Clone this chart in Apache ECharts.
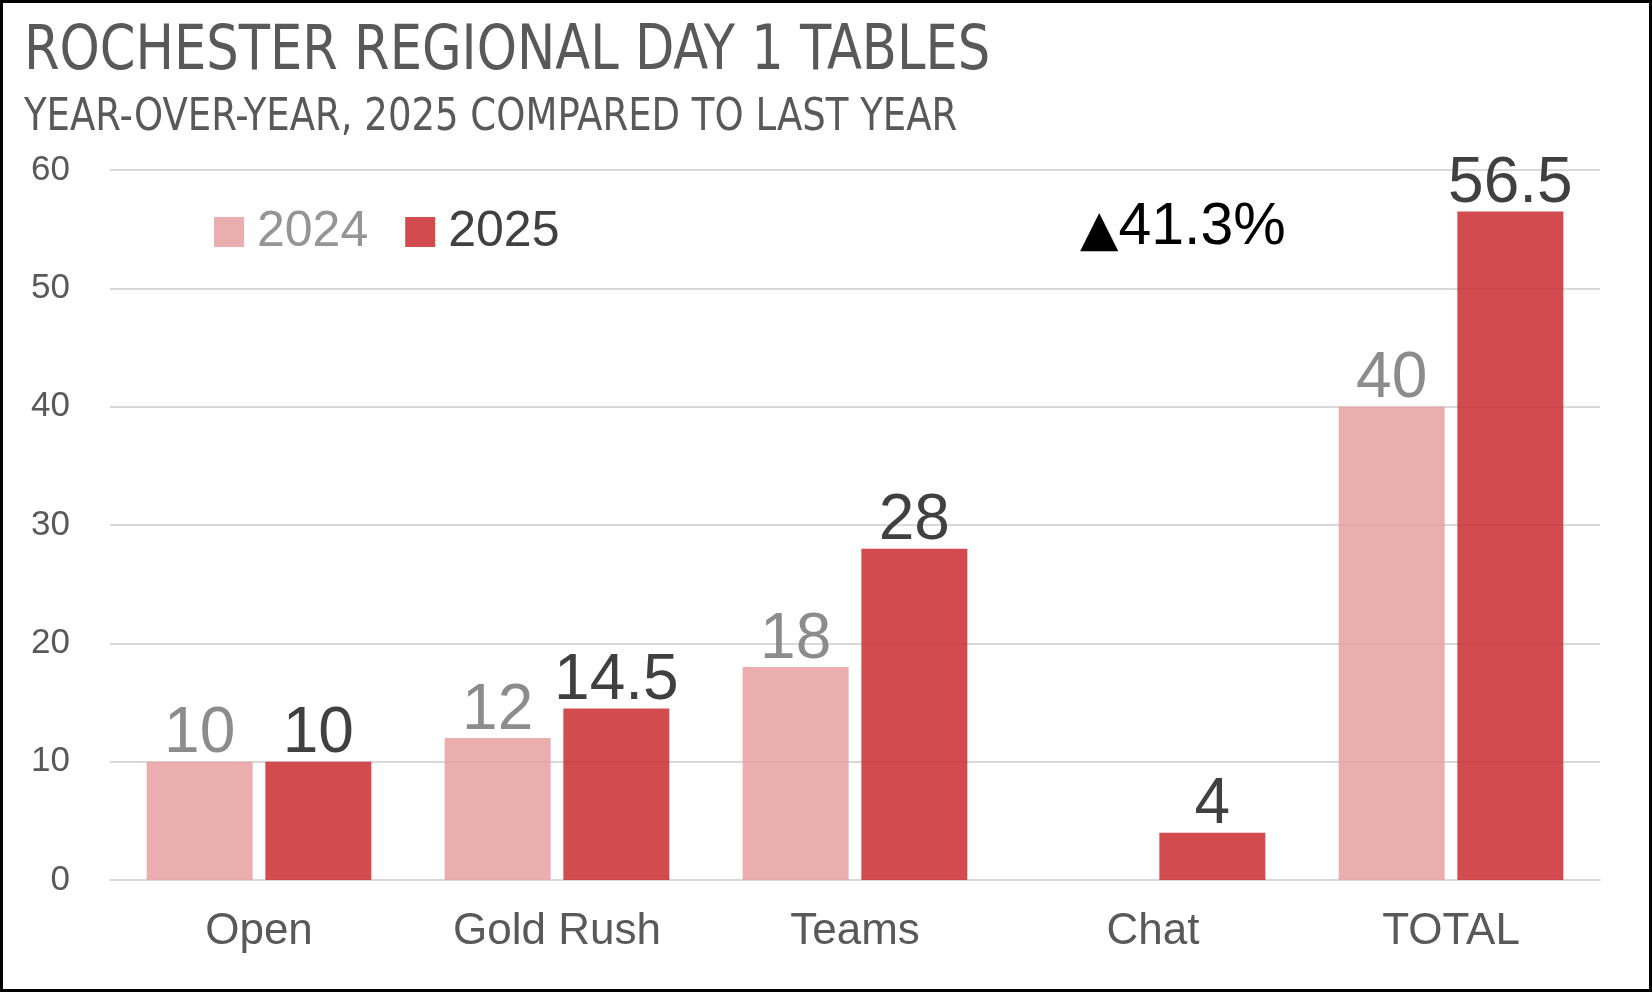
<!DOCTYPE html>
<html lang="en">
<head>
<meta charset="UTF-8">
<title>Rochester Regional Day 1 Tables</title>
<script src="https://cdn.jsdelivr.net/npm/echarts@6/dist/echarts.min.js"></script>
<style>
    html, body { margin: 0; padding: 0; background: #fff; }
    #chart {
        width: 1652px;
        height: 992px;
        box-sizing: border-box;
        border: 3px solid #000;
    }
</style>
</head>
<body>
<div id="chart"></div>
<script>
// data
var categories = ['Open', 'Gold Rush', 'Teams', 'Chat', 'TOTAL'];
var values2024 = [10, 12, 18, null, 40];
var values2025 = [10, 14.5, 28, 4, 56.5];
var yTicks = { min: 0, max: 60, interval: 10 };
var changeText = '41.3%';

var narrow = '"DejaVu Sans Condensed", "Liberation Sans", sans-serif';
var plain = '"Liberation Sans", Arial, sans-serif';

var chart = echarts.init(document.getElementById('chart'));

var option = {
    backgroundColor: '#fff',
    animation: false,
    // title + subtitle squeezed a bit, the original uses a narrow face
    graphic: [
        {
            type: 'text',
            x: 21,
            y: 19,
            scaleX: 0.917,
            style: {
                text: 'ROCHESTER REGIONAL DAY 1 TABLES',
                font: '62px ' + narrow,
                fill: '#595959',
                verticalAlign: 'top'
            }
        },
        {
            type: 'text',
            x: 21,
            y: 94,
            scaleX: 0.936,
            style: {
                text: 'YEAR-OVER-YEAR, 2025 COMPARED TO LAST YEAR',
                font: '44px ' + narrow,
                fill: '#595959',
                verticalAlign: 'top'
            }
        }
    ],
    title: {
        text: '{t|\u25B2}{v|' + changeText + '}',
        left: 1072,
        top: 190,
        textStyle: {
            fontWeight: 'normal',
            rich: {
                t: { fontFamily: '"DejaVu Sans", sans-serif', fontSize: 50, fontWeight: 'normal', color: '#000', verticalAlign: 'bottom' },
                v: { fontFamily: plain, fontSize: 59, fontWeight: 'normal', color: '#000' }
            }
        }
    },
    legend: {
        left: 206,
        top: 199,
        itemWidth: 30,
        itemHeight: 30,
        itemGap: 37,
        icon: 'rect',
        textStyle: { fontFamily: plain, fontSize: 50, padding: [0, 0, 0, 8] },
        data: [
            { name: '2024', textStyle: { color: '#959595' } },
            { name: '2025', textStyle: { color: '#404040' } }
        ]
    },
    grid: {
        left: 107,
        right: 49,
        top: 167,
        bottom: 109
    },
    xAxis: {
        type: 'category',
        data: categories,
        axisLine: { lineStyle: { color: '#D9D9D9', width: 2 } },
        axisTick: { show: false },
        axisLabel: { fontFamily: plain, fontSize: 44, color: '#595959', margin: 30 }
    },
    yAxis: {
        type: 'value',
        min: yTicks.min,
        max: yTicks.max,
        interval: yTicks.interval,
        axisLine: { show: false },
        axisTick: { show: false },
        splitLine: { lineStyle: { color: '#D9D9D9', width: 2 } },
        axisLabel: { fontFamily: plain, fontSize: 35, color: '#595959', margin: 40 }
    },
    series: [
        {
            name: '2024',
            type: 'bar',
            data: values2024,
            barWidth: 106,
            barGap: '12%',
            itemStyle: { color: 'rgba(231,160,160,0.85)' },
            label: {
                show: true,
                position: 'top',
                distance: -5,
                fontFamily: plain,
                fontSize: 64,
                color: '#8C8C8C'
            }
        },
        {
            name: '2025',
            type: 'bar',
            data: values2025,
            barWidth: 106,
            barGap: '12%',
            itemStyle: { color: 'rgba(202,44,48,0.85)' },
            label: {
                show: true,
                position: 'top',
                distance: -5,
                fontFamily: plain,
                fontSize: 64,
                color: '#404040'
            }
        }
    ]
};

chart.setOption(option);
</script>
</body>
</html>
